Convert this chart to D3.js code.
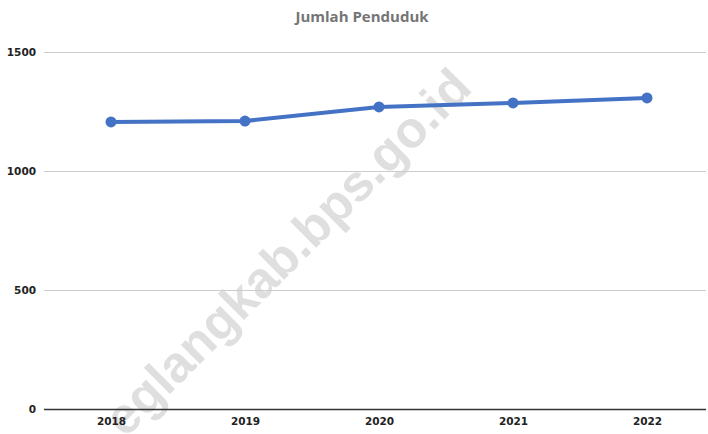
<!DOCTYPE html>
<html>
<head>
<meta charset="utf-8">
<script src="https://cdn.jsdelivr.net/npm/d3@7"></script>
<style>
  html, body { margin: 0; padding: 0; background: #fff; }
  svg { display: block; }
</style>
</head>
<body>
<svg id="chart" width="708" height="434"></svg>
<script>
const years = ["2018", "2019", "2020", "2021", "2022"];
const population = [1206, 1210, 1269, 1286, 1307];
const yTicks = [0, 500, 1000, 1500];
const title = "Jumlah Penduduk";
const watermark = "eglangkab.bps.go.id";

const svg = d3.select("#chart");

const x = d3.scalePoint().domain(years).range([44, 714]).padding(0.5);
const y = d3.scaleLinear().domain([0, 1500]).range([409, 52]);

// title
svg.append("text")
  .attr("x", 362).attr("y", 22)
  .attr("text-anchor", "middle")
  .attr("font-family", "'Open Sans', sans-serif")
  .attr("font-weight", "bold")
  .attr("font-size", 15)
  .attr("fill", "#757575")
  .text(title);

// watermark
svg.append("text")
  .attr("transform", "translate(474,90) rotate(-45)")
  .attr("text-anchor", "end")
  .attr("font-family", "'Liberation Sans', Arial, sans-serif")
  .attr("font-weight", "bold")
  .attr("font-size", 51)
  .attr("fill", "#d9d9d9")
  .attr("fill-opacity", 0.85)
  .text(watermark);

// gridlines
const yAxis = d3.axisLeft(y).tickValues(yTicks).tickFormat(d3.format("d"))
  .tickSize(-(706 - 44)).tickPadding(8);
const gy = svg.append("g").attr("transform", "translate(44,0)").call(yAxis);
gy.select(".domain").remove();
gy.selectAll(".tick line").attr("stroke", "#cccccc").attr("stroke-width", 1);
gy.selectAll(".tick text")
  .attr("x", -8)
  .attr("font-family", "'DejaVu Sans', sans-serif")
  .attr("font-weight", "bold")
  .attr("font-size", 10.5)
  .attr("fill", "#222");
gy.selectAll(".tick").filter(d => d === 0).select("line").attr("stroke", "none");

// x axis
const xAxis = d3.axisBottom(x).tickSize(0).tickPadding(9);
const gx = svg.append("g").attr("transform", "translate(0,409)").call(xAxis);
gx.select(".domain").remove();
svg.append("line").attr("x1", 44).attr("x2", 706).attr("y1", 409.5).attr("y2", 409.5)
  .attr("stroke", "#333").attr("stroke-width", 1.3);
gx.selectAll(".tick text")
  .attr("font-family", "'DejaVu Sans', sans-serif")
  .attr("font-weight", "bold")
  .attr("font-size", 10.5)
  .attr("fill", "#222");

// line
const data = years.map((yr, i) => ({ yr, v: population[i] }));
const color = "#4472c4";
svg.append("path")
  .datum(data)
  .attr("fill", "none")
  .attr("stroke", color)
  .attr("stroke-width", 4)
  .attr("stroke-linejoin", "round")
  .attr("d", d3.line().x(d => x(d.yr)).y(d => y(d.v)));
svg.selectAll("circle.pt").data(data).enter().append("circle")
  .attr("class", "pt")
  .attr("cx", d => x(d.yr)).attr("cy", d => y(d.v))
  .attr("r", 5.5).attr("fill", color);
</script>
</body>
</html>
